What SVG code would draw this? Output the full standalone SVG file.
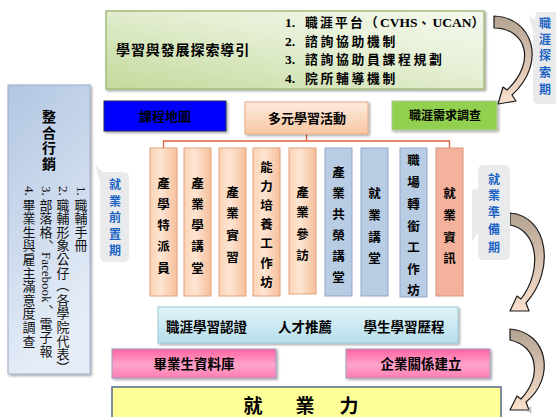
<svg xmlns="http://www.w3.org/2000/svg" width="556" height="417" viewBox="0 0 556 417">
<defs>
<linearGradient id="gTop" x1="0" y1="1" x2="1" y2="0"><stop offset="0" stop-color="#c4d99c"/><stop offset="0.6" stop-color="#e6f0d6"/><stop offset="1" stop-color="#f5f9ee"/></linearGradient>
<linearGradient id="gLeft" x1="0" y1="0" x2="0.3" y2="1"><stop offset="0" stop-color="#b2c6e2"/><stop offset="1" stop-color="#e6edf7"/></linearGradient>
<linearGradient id="gPeach" x1="0" y1="0" x2="1" y2="0"><stop offset="0" stop-color="#fbd3b4"/><stop offset="0.4" stop-color="#fde5d3"/><stop offset="1" stop-color="#f6bf9a"/></linearGradient>
<linearGradient id="gPeachV" x1="0" y1="0" x2="0" y2="1"><stop offset="0" stop-color="#fdebde"/><stop offset="1" stop-color="#f8c7a2"/></linearGradient>
<linearGradient id="gCyan" x1="0" y1="0" x2="0" y2="1"><stop offset="0" stop-color="#e2f3f8"/><stop offset="1" stop-color="#b6dfeb"/></linearGradient>
<linearGradient id="gPink" x1="0" y1="0" x2="0" y2="1"><stop offset="0" stop-color="#ff64a2"/><stop offset="0.55" stop-color="#ffa4ca"/><stop offset="1" stop-color="#ff7cb2"/></linearGradient>
<linearGradient id="gArr" x1="0" y1="0" x2="0" y2="1"><stop offset="0" stop-color="#b4a392"/><stop offset="1" stop-color="#fbe1cd"/></linearGradient>
<filter id="sh" x="-10%" y="-10%" width="130%" height="130%"><feDropShadow dx="1.5" dy="1.5" stdDeviation="0.8" flood-color="#000" flood-opacity="0.35"/></filter>
<style>
.cjk{font-family:"Noto Sans CJK TC","Noto Sans CJK SC",sans-serif;font-weight:700;fill:#000}
.num{font-family:"Liberation Serif","Noto Sans CJK TC",serif;font-weight:700;fill:#000}
.col{font-family:"Noto Sans CJK TC",sans-serif;font-weight:700;font-size:12.5px;text-anchor:middle;fill:#000}
.blue{font-family:"Noto Sans CJK TC",sans-serif;font-weight:700;font-size:12px;text-anchor:middle;fill:#1a62c4}
.lst{font-family:"Noto Sans CJK TC",sans-serif;font-weight:400;font-size:13px;text-anchor:middle;dominant-baseline:central;fill:#111}
.lat{font-family:"Liberation Serif",serif;font-size:13px;dominant-baseline:central;fill:#111}
.peach{fill:url(#gPeach);stroke:#e2a27c;stroke-width:1}
.bluec{fill:#b8cce4;stroke:#8fa8c8;stroke-width:1}
.callout{fill:#e9eaeb}
.arr{fill:url(#gArr);stroke:#1a1a1a;stroke-width:1.2;stroke-linejoin:round}
.conn{stroke:#e0603c;stroke-width:1.3;fill:none}
</style>
</defs>
<rect width="556" height="417" fill="#fff"/>

<g id="connectors">
<path class="conn" d="M306.5,134 V141 M163.5,148 V141 H449.5 V148"/>
<path class="arr" d="M494,16 C532,17 548,62 512,95 L516,101 L498,104 L503,87 L507,90 C537,62 526,28 494,28 Z"/>
<path class="arr" d="M510,213 C548,216 556,270 526,303 L529,311 L510,311 L517,296 L521,299 C543,270 538,230 510,225 Z"/>
<path class="arr" d="M510,329 C548,332 556,378 526,402 L529,410 L510,410 L517,396 L521,399 C542,376 538,346 510,340 Z"/>
</g>

<g id="explore-guide">
<rect x="106" y="11" width="378" height="78" fill="url(#gTop)" stroke="#a4bc7c" stroke-width="1.5" filter="url(#sh)"/>
<text class="cjk" x="116" y="55" font-size="14" letter-spacing="0.9">學習與發展探索導引</text>
<text class="num" x="285" y="27" font-size="13.5">1.</text>
<text class="cjk" x="305" y="27" font-size="12.8" letter-spacing="2.2">職涯平台（<tspan class="num" font-size="13.5" letter-spacing="0">CVHS</tspan>、<tspan class="num" font-size="13.5" letter-spacing="0">UCAN</tspan>）</text>
<text class="num" x="285" y="45.6" font-size="13.5">2.</text>
<text class="cjk" x="305" y="45.6" font-size="12.8" letter-spacing="2.7">諮詢協助機制</text>
<text class="num" x="285" y="64.2" font-size="13.5">3.</text>
<text class="cjk" x="305" y="64.2" font-size="12.8" letter-spacing="2.7">諮詢協助員課程規劃</text>
<text class="num" x="285" y="82.8" font-size="13.5">4.</text>
<text class="cjk" x="305" y="82.8" font-size="12.8" letter-spacing="2.7">院所輔導機制</text>
</g>

<g id="callout-explore">
<path class="callout" d="M538,12 H556 V104 H538 Q533,104 533,99 V30 L529,16 L535,20 Q535,12 538,12 Z"/>
<text class="blue" font-size="12.5"><tspan x="545" y="28">職</tspan><tspan x="545" y="44">涯</tspan><tspan x="545" y="60">探</tspan><tspan x="545" y="77">索</tspan><tspan x="545" y="94">期</tspan></text>
</g>

<g id="course-map">
<rect x="104" y="101" width="122" height="30" fill="#0000ff" stroke="#223366" stroke-width="1" filter="url(#sh)"/>
<text class="cjk" x="165" y="121" font-size="13" text-anchor="middle">課程地圖</text>
</g>
<g id="activities">
<rect x="245" y="102" width="123" height="32" fill="url(#gPeachV)" stroke="#e8a882" stroke-width="1" filter="url(#sh)"/>
<text class="cjk" x="307" y="123" font-size="13" text-anchor="middle">多元學習活動</text>
</g>
<g id="career-survey">
<rect x="392" y="101" width="105" height="29" fill="#92d050" stroke="#b0c8a0" stroke-width="1" filter="url(#sh)"/>
<text class="cjk" x="445" y="120" font-size="12" text-anchor="middle">職涯需求調查</text>
</g>

<g id="marketing">
<rect x="8" y="85" width="82" height="289" fill="url(#gLeft)" stroke="#9aaccc" stroke-width="1" filter="url(#sh)"/>
<text class="cjk" font-size="14" text-anchor="middle" dominant-baseline="central" x="49 49 49 49" y="116 131.5 147 162.5">整合行銷</text>
<text class="lat" transform="translate(81,186) rotate(90)">1.</text>
<text class="lst" x="81 81 81 81" y="204 217.6 231.2 244.8">職輔手冊</text>
<text class="lat" transform="translate(63,186) rotate(90)">2.</text>
<text class="lst" x="63 63 63 63 63 63" y="204 217.6 231.2 244.8 258.4 272">職輔形象公仔</text>
<text class="lst" text-anchor="middle" transform="translate(63,285.6) rotate(90)">（</text>
<text class="lst" x="63 63 63 63 63" y="299.2 312.8 326.4 340 353.6">各學院代表</text>
<text class="lst" text-anchor="middle" transform="translate(63,367.2) rotate(90)">）</text>
<text class="lat" transform="translate(46,186) rotate(90)">3.</text>
<text class="lst" x="46 46 46 51" y="204 217.6 231.2 240.5">部落格、</text>
<text class="lat" transform="translate(46,252) rotate(90)">Facebook</text>
<text class="lst" x="51 46 46 46" y="305 323 336.6 350.2">、電子報</text>
<text class="lat" transform="translate(29,186) rotate(90)">4.</text>
<text class="lst" x="29 29 29 29 29 29 29 29 29 29 29" y="204 217.6 231.2 244.8 258.4 272 285.6 299.2 312.8 326.4 340">畢業生與雇主滿意度調查</text>
</g>

<g id="callout-pre">
<path class="callout" d="M106,172 H123 Q129,172 129,178 V256 Q129,262 123,262 H106 Q100,262 100,256 V182 L95,165 L103,172 Z"/>
<text class="blue"><tspan x="115" y="189">就</tspan><tspan x="115" y="206">業</tspan><tspan x="115" y="222">前</tspan><tspan x="115" y="239">置</tspan><tspan x="115" y="255">期</tspan></text>
</g>
<g id="callout-prep">
<path class="callout" d="M484,165 H504 Q510,165 510,171 V254 Q510,260 504,260 H484 Q478,260 478,254 V232 L472,242 L472,190 L478,188 V171 Q478,165 484,165 Z"/>
<text class="blue"><tspan x="494" y="184">就</tspan><tspan x="494" y="200">業</tspan><tspan x="494" y="217">準</tspan><tspan x="494" y="234">備</tspan><tspan x="494" y="252">期</tspan></text>
</g>

<g id="col-1">
<rect class="peach" x="150" y="148" width="27" height="148"/>
<text class="col"><tspan x="163.5" y="188">產</tspan><tspan x="163.5" y="209">學</tspan><tspan x="163.5" y="230">特</tspan><tspan x="163.5" y="251">派</tspan><tspan x="163.5" y="272.5">員</tspan></text>
</g>
<g id="col-2">
<rect class="peach" x="184" y="148" width="27" height="148"/>
<text class="col"><tspan x="197.5" y="188">產</tspan><tspan x="197.5" y="209">業</tspan><tspan x="197.5" y="230">學</tspan><tspan x="197.5" y="251">講</tspan><tspan x="197.5" y="272.5">堂</tspan></text>
</g>
<g id="col-3">
<rect class="peach" x="219" y="148" width="27" height="148"/>
<text class="col"><tspan x="232.5" y="196.5">產</tspan><tspan x="232.5" y="217.5">業</tspan><tspan x="232.5" y="239.5">實</tspan><tspan x="232.5" y="261.5">習</tspan></text>
</g>
<g id="col-4">
<rect class="peach" x="253" y="148" width="27" height="148"/>
<text class="col"><tspan x="266.5" y="171.5">能</tspan><tspan x="266.5" y="190.5">力</tspan><tspan x="266.5" y="209.5">培</tspan><tspan x="266.5" y="228.5">養</tspan><tspan x="266.5" y="247.5">工</tspan><tspan x="266.5" y="267.5">作</tspan><tspan x="266.5" y="286.5">坊</tspan></text>
</g>
<g id="col-5">
<rect class="peach" x="289" y="148" width="27" height="146"/>
<text class="col"><tspan x="302.5" y="196.5">產</tspan><tspan x="302.5" y="216.5">業</tspan><tspan x="302.5" y="238.5">參</tspan><tspan x="302.5" y="259.5">訪</tspan></text>
</g>
<g id="col-6">
<rect class="bluec" x="325" y="148" width="27" height="148"/>
<text class="col"><tspan x="338.5" y="176.5">產</tspan><tspan x="338.5" y="197.5">業</tspan><tspan x="338.5" y="218.5">共</tspan><tspan x="338.5" y="239.5">榮</tspan><tspan x="338.5" y="260.5">講</tspan><tspan x="338.5" y="281.5">堂</tspan></text>
</g>
<g id="col-7">
<rect class="bluec" x="361" y="148" width="27" height="148"/>
<text class="col"><tspan x="374.5" y="197.5">就</tspan><tspan x="374.5" y="219.5">業</tspan><tspan x="374.5" y="241.5">講</tspan><tspan x="374.5" y="262.5">堂</tspan></text>
</g>
<g id="col-8">
<rect class="bluec" x="400" y="148" width="27" height="149"/>
<text class="col"><tspan x="413.5" y="164.5">職</tspan><tspan x="413.5" y="186.5">場</tspan><tspan x="413.5" y="208.5">轉</tspan><tspan x="413.5" y="230.5">銜</tspan><tspan x="413.5" y="251.5">工</tspan><tspan x="413.5" y="273.5">作</tspan><tspan x="413.5" y="294.5">坊</tspan></text>
</g>
<g id="col-9">
<rect x="436" y="148" width="27" height="148" fill="#f4b29c" stroke="#d8937a" stroke-width="1"/>
<text class="col"><tspan x="449.5" y="197.5">就</tspan><tspan x="449.5" y="219.5">業</tspan><tspan x="449.5" y="241.5">資</tspan><tspan x="449.5" y="262.5">訊</tspan></text>
</g>

<g id="certification">
<rect x="158" y="307" width="300" height="36" fill="url(#gCyan)" stroke="#9ecad8" stroke-width="1" filter="url(#sh)"/>
<text class="cjk" font-size="13.5" text-anchor="middle"><tspan x="206.5" y="332">職涯學習認證</tspan><tspan x="305" y="332">人才推薦</tspan><tspan x="404" y="332">學生學習歷程</tspan></text>
</g>
<g id="graduate-db">
<rect x="112" y="349" width="164" height="29" fill="url(#gPink)" stroke="#9a9cc0" stroke-width="1" filter="url(#sh)"/>
<text class="cjk" x="194" y="369" font-size="13.5" text-anchor="middle">畢業生資料庫</text>
</g>
<g id="enterprise">
<rect x="346" y="349" width="144" height="29" fill="url(#gPink)" stroke="#9a9cc0" stroke-width="1" filter="url(#sh)"/>
<text class="cjk" x="421" y="369" font-size="13.5" text-anchor="middle">企業關係建立</text>
</g>
<g id="employability">
<rect x="112" y="387" width="389" height="34" fill="#ffff99" stroke="#56698c" stroke-width="1.5"/>
<text class="cjk" font-size="19" text-anchor="middle"><tspan x="253" y="413">就</tspan><tspan x="305" y="413">業</tspan><tspan x="349" y="413">力</tspan></text>
</g>
<text x="527" y="413" font-family="Liberation Sans, sans-serif" font-size="9" fill="#a0a0a0">4</text>
</svg>
